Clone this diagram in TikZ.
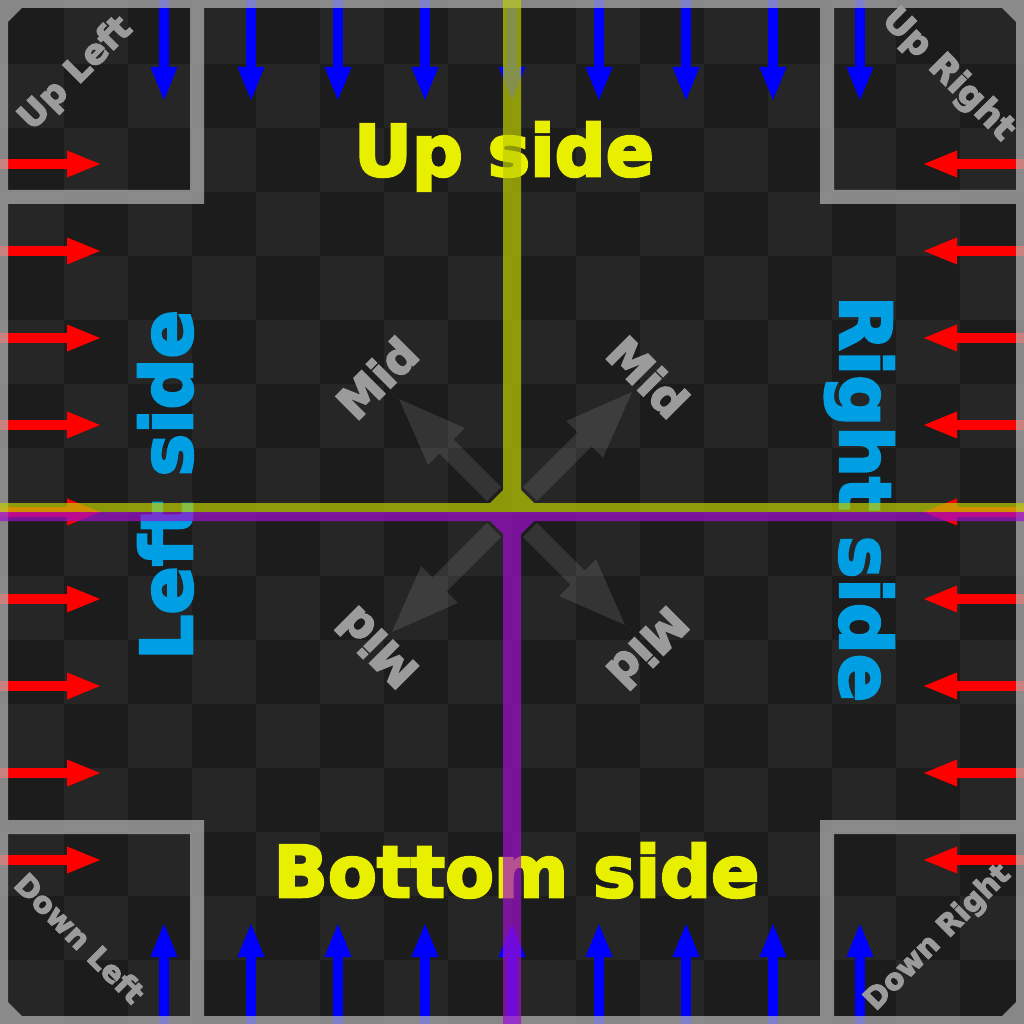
\documentclass[tikz,border=0pt]{standalone}
\usepackage{fontspec}
\setmainfont{DejaVu Sans}
\newfontfamily\lblfont{DejaVu Sans Bold}[FakeBold=3.5]
\usetikzlibrary{arrows.meta,calc}
\definecolor{sqdark}{RGB}{28,28,28}
\definecolor{sqlight}{RGB}{38,38,38}
\definecolor{framegray}{RGB}{181,181,181}
\definecolor{arrred}{RGB}{255,0,0}
\definecolor{arrblue}{RGB}{0,0,255}
\definecolor{txtyellow}{RGB}{232,240,0}
\definecolor{txtblue}{RGB}{0,158,226}
\definecolor{lblgray}{RGB}{155,155,155}
\definecolor{lineyellow}{RGB}{190,205,0}
\definecolor{linepurple}{RGB}{160,15,205}
\newcommand\midarrowshape[2]{%
  \coordinate (#1hb) at ($(#2)!67pt!(#1)$);
  \fill[midarrowfill] ($(#1)!10pt!90:(#2)$) -- ($(#1hb)!10pt!90:(#2)$) -- ($(#1hb)!26pt!90:(#2)$) -- (#2)
     -- ($(#1hb)!26pt!-90:(#2)$) -- ($(#1hb)!10pt!-90:(#2)$) -- ($(#1)!10pt!-90:(#2)$) -- cycle;}
\begin{document}
\begin{tikzpicture}[x=1pt,y=-1pt,
  bluearr/.style={draw=arrblue, line width=10pt, -{Triangle[length=35pt,width=24pt]}},
  redarr/.style={draw=arrred, line width=10pt, -{Triangle[length=35pt,width=24pt]}},
  framefill/.style={fill=framegray, opacity=0.7},
  midarrowfill/.style={fill=white, opacity=0.11},
  bigtxt/.style={font=\fontsize{71.3}{80}\lblfont, inner sep=0pt},
  uptxt/.style={font=\fontsize{35}{40}\lblfont, text=lblgray, inner sep=0pt},
  downtxt/.style={font=\fontsize{29.5}{36}\lblfont, text=lblgray, inner sep=0pt},
  midtxt/.style={font=\fontsize{45}{50}\lblfont, text=lblgray, inner sep=0pt},
  yline/.style={fill=lineyellow, opacity=0.7},
  pline/.style={fill=linepurple, opacity=0.7}]
\useasboundingbox (0,0) rectangle (1024,1024);
% checkerboard
\fill[sqdark] (0,0) rectangle (1024,1024);
\foreach \i in {0,...,15}{\foreach \j in {0,...,15}{
  \pgfmathparse{int(mod(\i+\j,2))}
  \ifnum\pgfmathresult=1 \fill[sqlight] (\i*64,\j*64) rectangle ++(64,64);\fi
}}
% edge arrows
\foreach \c in {164,251,...,860}{
  \draw[bluearr] (\c,0) -- (\c,102);
  \draw[bluearr] (\c,1024) -- (\c,922);
  \draw[redarr] (0,\c) -- (102,\c);
  \draw[redarr] (1024,\c) -- (922,\c);
}
% frame and corner boxes
\fill[framefill]
  (0,0) -- (1024,0) -- (1024,1024) -- (0,1024) -- cycle
  (8,22) -- (8,1002) -- (22,1016) -- (1002,1016) -- (1016,1002) -- (1016,22) -- (1002,8) -- (22,8) -- cycle
  (190,0) -- (204,0) -- (204,204) -- (190,204) -- cycle
  (0,190) -- (204,190) -- (204,204) -- (0,204) -- cycle
  (820,0) -- (834,0) -- (834,204) -- (820,204) -- cycle
  (820,190) -- (1024,190) -- (1024,204) -- (820,204) -- cycle
  (190,820) -- (204,820) -- (204,1024) -- (190,1024) -- cycle
  (0,820) -- (204,820) -- (204,834) -- (0,834) -- cycle
  (820,820) -- (834,820) -- (834,1024) -- (820,1024) -- cycle
  (820,820) -- (1024,820) -- (1024,834) -- (820,834) -- cycle;
% mid arrows
\coordinate (ulS) at (494,494); \coordinate (ulT) at (399,399);
\coordinate (urS) at (530,494); \coordinate (urT) at (632,392);
\coordinate (llS) at (494,530); \coordinate (llT) at (392,632);
\coordinate (lrS) at (530,530); \coordinate (lrT) at (625,625);
\midarrowshape{ulS}{ulT}
\midarrowshape{urS}{urT}
\midarrowshape{llS}{llT}
\midarrowshape{lrS}{lrT}
% texts
\node[bigtxt, text=txtyellow, anchor=base] (upside) at (504,176) {Up side};
\node[bigtxt, text=txtyellow, anchor=base] (bottomside) at (516.5,897) {Bottom side};
\node[bigtxt, text=txtblue, anchor=base, rotate=90] (leftside) at (192,485) {Left side};
\node[bigtxt, text=txtblue, anchor=base, rotate=-90] (rightside) at (840,499) {Right side};
\node[uptxt, rotate=45] (ul) at (76,74) {Up Left};
\node[uptxt, rotate=-45] (ur) at (948,75) {Up Right};
\node[downtxt, rotate=-45] (dl) at (80,938) {Down Left};
\node[downtxt, rotate=45] (dr) at (938,938) {Down Right};
\node[midtxt, rotate=45] (mul) at (377,378) {Mid};
\node[midtxt, rotate=-45] (mur) at (648,377) {Mid};
\node[midtxt, rotate=-135] (mlr) at (648,648) {Mid};
\node[midtxt, rotate=135] (mll) at (377,648) {Mid};
% center lines
\fill[yline] (503,0) -- (521,0) -- (521,490) -- (534,503) -- (1024,503) -- (1024,512) -- (0,512) -- (0,503) -- (490,503) -- (503,490) -- cycle;
\fill[pline] (0,512) -- (1024,512) -- (1024,521) -- (534,521) -- (521,534) -- (521,1024) -- (503,1024) -- (503,534) -- (490,521) -- (0,521) -- cycle;
\end{tikzpicture}
\end{document}
